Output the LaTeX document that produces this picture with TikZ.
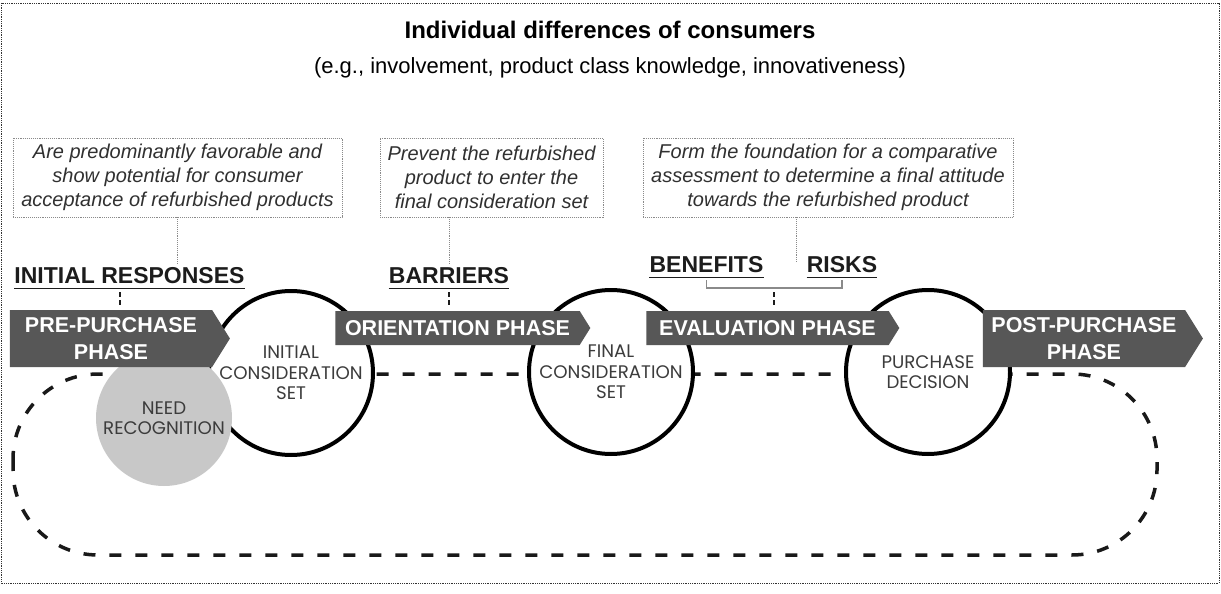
\documentclass[tikz,border=0pt]{standalone}
\usepackage{fontspec}
\setmainfont{Liberation Sans}
\newfontfamily\circfont{Poppins}
\usetikzlibrary{positioning, shapes.symbols}

\definecolor{phasegray}{HTML}{575757}
\definecolor{needgray}{HTML}{C8C8C8}
\definecolor{notegray}{HTML}{8A8A8A}
\definecolor{notetext}{HTML}{303030}
\definecolor{labeltext}{HTML}{1C1C1C}
\definecolor{circtext}{HTML}{3C3C3C}

\begin{document}
\begin{tikzpicture}[x=1pt, y=-1pt,
titlenode/.style={font=\fontsize{24}{28}\selectfont\bfseries, text=black},
subnode/.style={font=\fontsize{22}{26}\selectfont, text=black},
notebox/.style={rectangle, draw=notegray, densely dotted, line width=0.9pt, minimum width=#1, minimum height=79pt, inner sep=0pt, align=center, font=\fontsize{20}{24}\selectfont\itshape, text=notetext},
steplabel/.style={font=\fontsize{23}{27}\selectfont\bfseries, text=labeltext, inner xsep=0pt, inner ysep=4pt},
phase/.style={signal, signal to=east, signal pointer angle=116, fill=phasegray, text=white, inner sep=0pt, align=center, font=\fontsize{21.5}{27}\selectfont\bfseries},
circ/.style={circle, draw=black, line width=4pt, fill=white, minimum size=164pt, inner sep=0pt, align=center, font=\circfont\fontsize{18.2}{20.5}\selectfont, text=circtext},
needcirc/.style={circle, fill=needgray, minimum size=136pt, inner sep=0pt, align=center, font=\circfont\fontsize{18.2}{20.5}\selectfont, text=circtext},
loopline/.style={draw=black!90, line width=3.5pt, dash pattern=on 12pt off 14pt, rounded corners=85pt},
conn/.style={draw=notegray, line width=0.9pt, densely dotted},
tick/.style={draw=labeltext, line width=2.6pt, dash pattern=on 5pt off 3pt, shorten <=4pt, shorten >=4pt},
underline/.style={draw=labeltext, line width=1.5pt},
bracket/.style={draw=notegray, line width=1.2pt},
frame/.style={draw=black!80, line width=0.8pt, densely dotted},
]
\useasboundingbox (0,0) rectangle (1221,594);

%Loop
\draw[loopline] (13,374) rectangle (1157,555);

\node[titlenode] (title)    at (610,30) {Individual differences of consumers};
\node[subnode]   (examples) at (610,68) {(e.g., involvement, product class knowledge, innovativeness)};

\node[circ]     (initialset)  at (291,373) {INITIAL\\CONSIDERATION\\SET};
\node[circ]     (finalset)    at (611,372) {FINAL\\CONSIDERATION\\SET};
\node[circ]     (decision)    at (928,372) {PURCHASE\\DECISION};
\node[needcirc] (need)        at (164,418) {NEED\\RECOGNITION};

\node[phase, minimum width=220pt, minimum height=57pt] (pre)    at (111,338.5)  {PRE-PURCHASE\\PHASE};
\node[phase, minimum width=255pt, minimum height=34pt] (orient) at (457.5,328)  {ORIENTATION PHASE};
\node[phase, minimum width=253pt, minimum height=34pt] (eval)   at (767.5,328)  {EVALUATION PHASE};
\node[phase, minimum width=220pt, minimum height=57pt] (post)   at (1084,338.5) {POST-PURCHASE\\PHASE};

\node[steplabel] (resp) at (129.5,276) {INITIAL RESPONSES};
\node[steplabel] (barr) at (449,276)   {BARRIERS};
\node[steplabel] (bene) at (706.5,265) {BENEFITS};
\node[steplabel] (risk) at (842,265)   {RISKS};

\node[notebox=329pt] (box1) at (177.5,177.5) {Are predominantly favorable and\\show potential for consumer\\acceptance of refurbished products};
\node[notebox=223pt] (box2) at (491.5,177.5) {Prevent the refurbished\\product to enter the\\final consideration set};
\node[notebox=370pt] (box3) at (828,177.5)   {Form the foundation for a comparative\\assessment to determine a final attitude\\towards the refurbished product};

\coordinate (brk) at (774,288);
\coordinate (evalnote) at (796,263);

%Lines
\draw[underline] (resp.south west) -- (resp.south east);
\draw[underline] (barr.south west) -- (barr.south east);
\draw[underline] (bene.south west) -- (bene.south east);
\draw[underline] (risk.south west) -- (risk.south east);
\draw[bracket] ([yshift=-3pt]bene.south) |- (brk) -| ([yshift=-3pt]risk.south);
%Lines
\draw[conn] (box1.south) -- (box1.south |- resp.north);
\draw[conn] (box2.south -| barr.north) -- (barr.north);
\draw[conn] (box3.south -| evalnote) -- (evalnote);
\draw[tick] (resp.south -| 120,0) -- (pre.north -| 120,0);
\draw[tick] (barr.south) -- (barr.south |- orient.north);
\draw[tick] (brk) -- (brk |- eval.north);

\draw[frame] (1,3) rectangle (1219,583);
\end{tikzpicture}
\end{document}
